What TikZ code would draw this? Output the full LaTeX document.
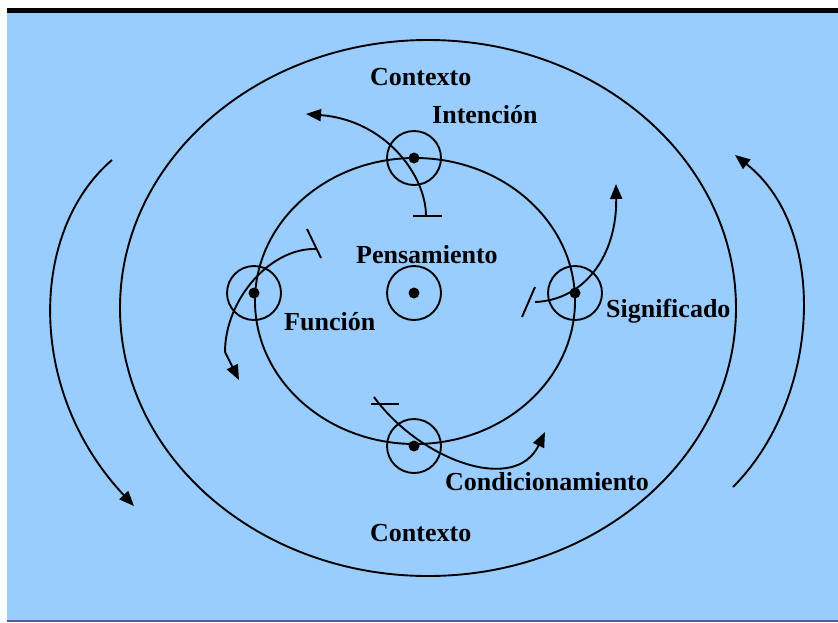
\documentclass[tikz,border=0pt]{standalone}
\usepackage{fontspec}
\setmainfont{Liberation Serif}
\usetikzlibrary{arrows.meta}
\definecolor{bg}{HTML}{99CCFF}
\begin{document}
\begin{tikzpicture}[x=1pt,y=-1pt,
  lbl/.style={font=\bfseries\fontsize{26}{30}\selectfont, inner sep=0pt, anchor=base west},
  ring/.style={circle, draw, line width=1.9pt, minimum size=54pt, inner sep=0pt},
  dotn/.style={circle, fill, minimum size=11pt, inner sep=0pt},
  ln/.style={line width=1.9pt},
  arr/.style={ln, -{Triangle[length=15pt,width=12pt]}}]
\useasboundingbox (0,0) rectangle (838,622);
\fill[white] (0,0) rectangle (838,622);
\fill[bg] (7,13) rectangle (838,620);
\fill[black] (7,8) rectangle (838,13);
\draw[gray!70!blue, line width=1.2pt] (7,621) -- (838,621);

% ellipses
\draw[ln] (428,308) ellipse [x radius=308, y radius=268];
\draw[ln] (415,301) ellipse [x radius=160, y radius=143];

% rings and dots
\node[ring] (rtop) at (414,158) {};
\node[ring] (rleft) at (254,293) {};
\node[ring] (rcen) at (414,293) {};
\node[ring] (rright) at (575,293) {};
\node[ring] (rbot) at (414,446) {};
\node[dotn] (dtop) at (414,158) {};
\node[dotn] (dleft) at (254,293) {};
\node[dotn] (dcen) at (414,293) {};
\node[dotn] (dright) at (575,293) {};
\node[dotn] (dbot) at (414,446) {};

% labels
\node[lbl] (ctx1) at (370,85) {Contexto};
\node[lbl] (inte) at (432,123) {Intención};
\node[lbl] (pens) at (356,263) {Pensamiento};
\node[lbl] (func) at (284,330) {Función};
\node[lbl] (sign) at (606,317) {Significado};
\node[lbl] (cond) at (445,490) {Condicionamiento};
\node[lbl] (ctx2) at (370,541) {Contexto};

% coordinates for connector ends
\coordinate (iS) at (426,216);
\coordinate (iE) at (306,114);
\coordinate (fS) at (317,249);
\coordinate (fK) at (225,352);
\coordinate (fE) at (239,380);
\coordinate (sS) at (535,302);
\coordinate (sE) at (616,184);
\coordinate (cS) at (374,397);
\coordinate (cE) at (545,432);
\coordinate (lS) at (112,160);
\coordinate (lE) at (134,506);
\coordinate (rS) at (733,487);
\coordinate (rE) at (735,155);

% Intencion
\draw[arr] (iS) .. controls (426,175) and (385,120) .. (iE);
\draw[ln] (413,216) -- (442,216);
% Funcion
\draw[ln] (fS) .. controls (270,247) and (225,300) .. (fK);
\draw[arr] (fK) -- (fE);
\draw[ln] (307,229) -- (321,258);
% Significado
\draw[arr] (sS) .. controls (585,300) and (617,255) .. (sE);
\draw[ln] (522,317) -- (535,287);
% Condicionamiento
\draw[arr] (cS) .. controls (420,460) and (515,495) .. (cE);
\draw[ln] (371,404) -- (399,404);
% outer arrows
\draw[arr] (lS) .. controls (30,230) and (25,390) .. (lE);
\draw[arr] (rS) .. controls (820,400) and (830,230) .. (rE);
\end{tikzpicture}
\end{document}
